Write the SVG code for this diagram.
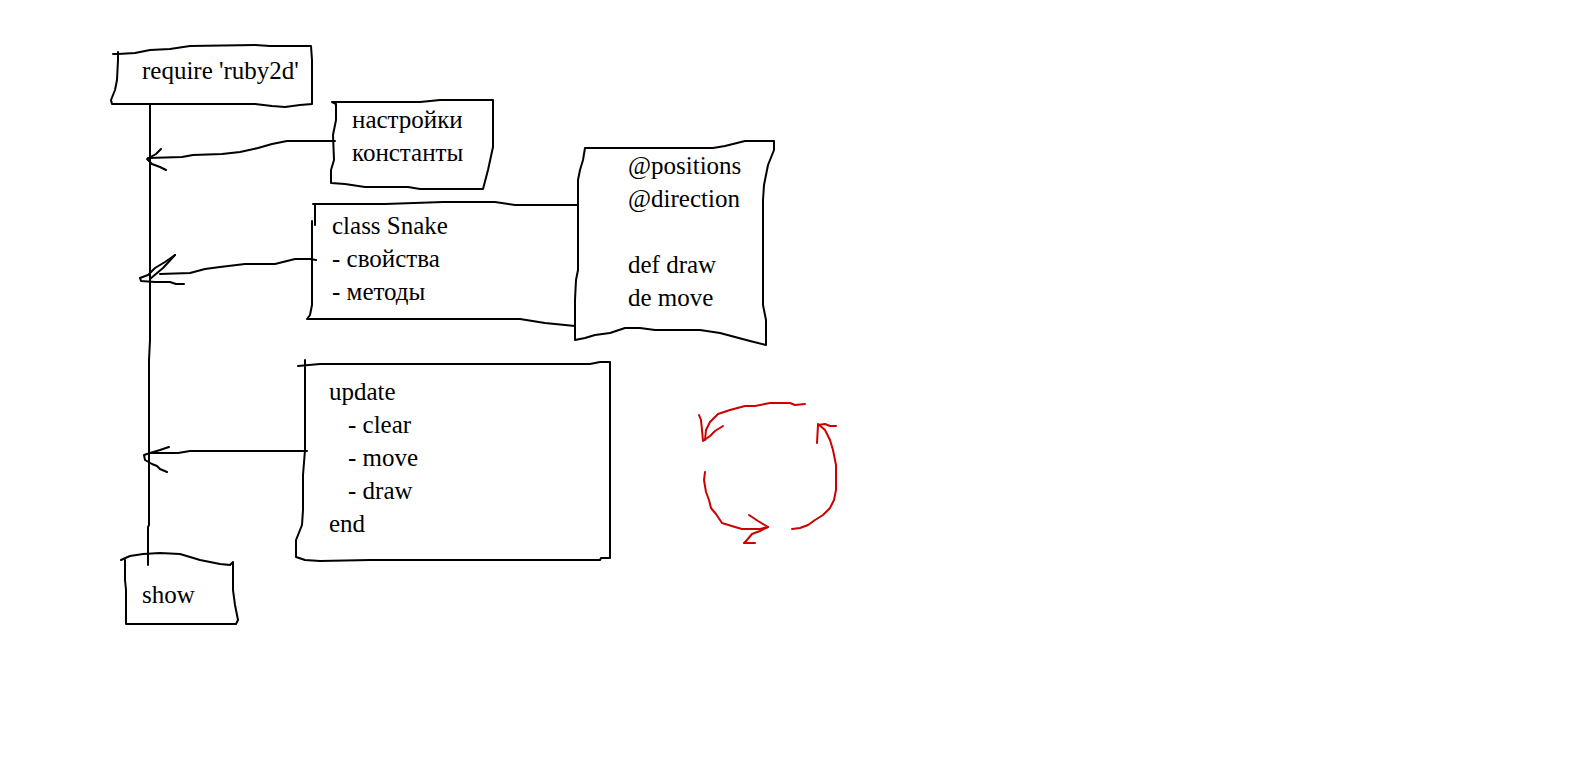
<svg xmlns="http://www.w3.org/2000/svg" width="1570" height="772" viewBox="0 0 1570 772">
<style>
.s{fill:none;stroke:#000;stroke-width:2;stroke-linejoin:round;stroke-linecap:round}
.r{fill:none;stroke:#cc0000;stroke-width:2;stroke-linejoin:round;stroke-linecap:round}
text{font-family:"Liberation Serif","Times New Roman",serif;font-size:25px;fill:#000}
</style>
<rect width="1570" height="772" fill="#fff"/>
<g id="require">
<path class="s" d="M113,54 L118,54 L135,53 L150,50 L170,49 L190,46 L255,45 L270,46 L311,46 L312,60 L312,104 L300,105 L285,107 L272,106 L255,104 L150,104 L112,104 L111,100 L115,90 L117,80 L118,60 L118,52"/>
<text x="142" y="79">require 'ruby2d'</text>
</g>
<g id="nastroyki">
<path class="s" d="M332,102 L336,104 L336,120 L333,135 L334,160 L331,170 L331,183 L345,184 L365,187 L408,187 L420,189 L483,189 L488,170 L493,147 L493,100 L440,100 L420,102 L332,102"/>
<text x="352" y="128">настройки</text>
<text x="352" y="161">константы</text>
</g>
<g id="snake">
<path class="s" d="M313,204 L322,204 L385,204 L443,202 L495,202 L515,205 L578,205"/>
<path class="s" d="M315,204 L315,225"/>
<path class="s" d="M312,221 L312,305 L310,315 L307,319 L520,319 L545,323 L575,326"/>
<text x="332" y="234">class Snake</text>
<text x="332" y="267">- свойства</text>
<text x="332" y="300">- методы</text>
</g>
<g id="snakeDetails">
<path class="s" d="M585,148 L583,160 L580,170 L578,180 L578,270 L576,280 L575,300 L575,340 L585,338 L595,335 L610,333 L625,328 L640,328 L655,330 L700,330 L720,333 L735,337 L750,341 L766,345 L766,320 L763,305 L763,200 L764,185 L768,165 L774,150 L774,141 L745,141 L725,146 L713,148 L585,148"/>
<text x="628" y="174">@positions</text>
<text x="628" y="207">@direction</text>
<text x="628" y="273">def draw</text>
<text x="628" y="306">de move</text>
</g>
<g id="update">
<path class="s" d="M298,366 L320,364 L590,364 L600,362 L610,362 L610,558 L601,558 L600,560 L370,560 L320,561 L305,560 L296,557 L296,540 L302,525 L303,510 L303,475 L305,450 L305,360"/>
<text x="329" y="400">update</text>
<text x="348" y="433">- clear</text>
<text x="348" y="466">- move</text>
<text x="348" y="499">- draw</text>
<text x="329" y="532">end</text>
</g>
<g id="show">
<path class="s" d="M121,560 L130,556 L143,554 L160,553 L180,554 L200,560 L220,564 L230,565 L233,562 L233,590 L235,605 L238,620 L236,624 L126,624 L126,590 L125,580 L125,560"/>
<text x="142" y="603">show</text>
</g>
<g id="connectors">
<path class="s" d="M150,104 L150,340 L149,360 L149,525 L148,527 L148,565"/>
<path class="s" d="M335,141 L287,141 L272,144 L258,148 L240,152 L222,154 L193,155 L182,157 L148,158"/>
<path class="s" d="M161,149 L156,154 L147,159 L152,164 L160,167 L166,170"/>
<path class="s" d="M316,260 L310,259 L295,259 L275,264 L245,264 L220,267 L205,269 L190,273 L160,274"/>
<path class="s" d="M175,255 L165,262 L155,268 L148,275 L140,278 L141,281 L155,282 L170,282 L176,284 L184,284"/>
<path class="s" d="M175,255 L163,268 L150,279"/>
<path class="s" d="M307,451 L190,451 L178,453 L150,453"/>
<path class="s" d="M169,447 L160,450 L150,453 L144,455 L145,460 L152,464 L157,466 L160,469 L167,472"/>
<path class="r" d="M805,404 L795,405 L790,403 L770,403 L755,406 L745,406 L730,410 L718,414 L710,422 L706,430 L705,440"/>
<path class="r" d="M699,415 L701,420 L702,430 L703,441 L710,436 L715,431 L723,426"/>
<path class="r" d="M792,529 L800,528 L808,525 L815,520 L823,515 L830,508 L834,500 L836,490 L836,465 L833,450 L830,440 L825,430 L818,424"/>
<path class="r" d="M817,443 L818,425 L825,424 L830,426 L836,426"/>
<path class="r" d="M705,472 L704,480 L706,492 L709,500 L711,508 L716,514 L722,523 L735,527 L742,529 L760,529 L768,527"/>
<path class="r" d="M749,515 L758,521 L768,527 L760,531 L752,534 L747,540 L744,543 L755,543"/>
</g>
</svg>
